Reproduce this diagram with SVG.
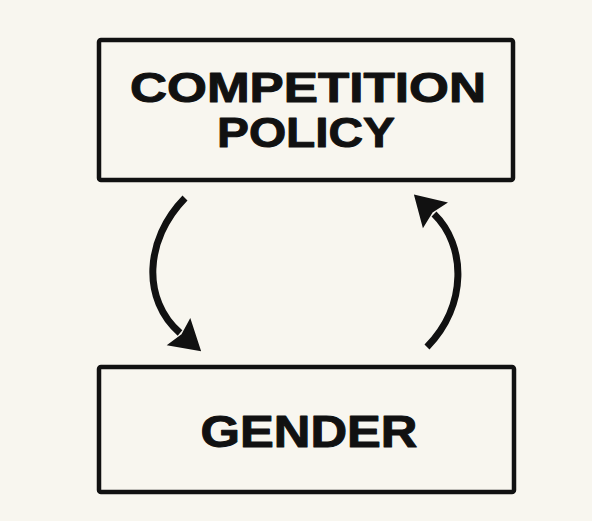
<svg xmlns="http://www.w3.org/2000/svg" width="592" height="521" viewBox="0 0 592 521">
  <style>
    .box { fill: #f8f6ef; stroke: #111; stroke-width: 4.5; }
    .label { font-family: "Liberation Sans", Arial, Helvetica, sans-serif; font-weight: bold; fill: #111; stroke: #111; stroke-width: 1; stroke-linejoin: round; text-anchor: middle; }
    .flow { fill: none; stroke: #111; stroke-width: 7; stroke-linecap: butt; }
  </style>
  <defs>
    <marker id="head" markerUnits="userSpaceOnUse" markerWidth="40" markerHeight="40" viewBox="-4 -20 40 40" refX="2" refY="0" orient="auto" overflow="visible">
      <path d="M30,0 L0,-18 L4,0 L0,18 Z" fill="#111"/>
    </marker>
  </defs>
  <rect x="0" y="0" width="592" height="521" fill="#f8f6ef"/>

  <g id="competition-policy">
    <rect class="box" x="99" y="40" width="414" height="140" rx="2"/>
    <text class="label" x="308" y="102" font-size="42" textLength="356" lengthAdjust="spacingAndGlyphs">COMPETITION</text>
    <text class="label" x="306" y="147" font-size="42" textLength="178" lengthAdjust="spacingAndGlyphs">POLICY</text>
  </g>

  <g id="gender">
    <rect class="box" x="99" y="367" width="415" height="125" rx="2"/>
    <text class="label" x="309" y="447" font-size="44" textLength="217" lengthAdjust="spacingAndGlyphs">GENDER</text>
  </g>

  <g id="connectors">
    <path class="flow" d="M185,198 C144,240 142,300 180,333" marker-end="url(#head)"/>
    <path class="flow" d="M427,347 C468,305 466,245 434,214" marker-end="url(#head)"/>
  </g>
</svg>
